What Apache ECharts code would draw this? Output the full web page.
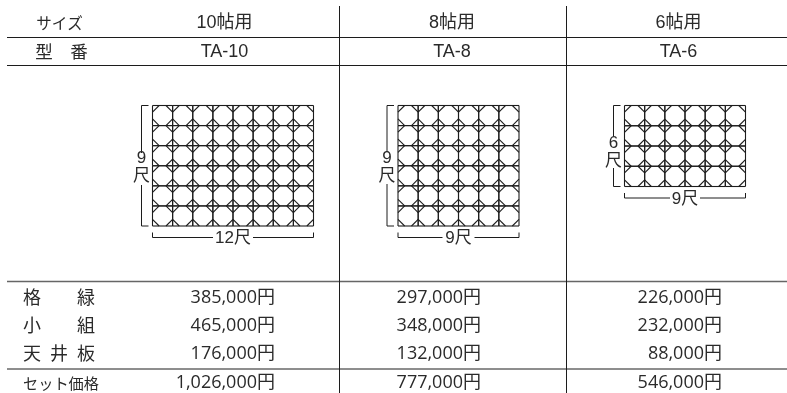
<!DOCTYPE html>
<html><head><meta charset="utf-8">
<style>html,body{margin:0;padding:0;background:#fff}#c{width:787px;height:393px}</style>
<script src="https://cdn.jsdelivr.net/npm/echarts@6/dist/echarts.min.js"></script>
</head><body><div id="c"></div>
<script>
const sizes = ['10帖用','8帖用','6帖用'];
const models = ['TA-10','TA-8','TA-6'];
const rowLabels = ['格　　緑','小　　組','天\u2002井\u2002板'];
const rowHeads = ['サイズ','型　番'];
const totalLabel = 'セット価格';
const kakubuchi = ['385,000円','297,000円','226,000円'];
const kogumi = ['465,000円','348,000円','232,000円'];
const tenjoita = ['176,000円','132,000円','88,000円'];
const setPrice = ['1,026,000円','777,000円','546,000円'];
const spanW = [12,9,9];   // shaku
const spanH = [9,9,6];
const cols = [8,6,6];
const rows = [6,6,4];
const widthLabels = ['12尺','9尺','9尺'];
const heightDigits = ['9','9','6'];

const JP = '"Noto Sans CJK JP","Noto Sans"';
const LAT = '"Liberation Sans","Noto Sans CJK JP"';
const INK = '#1c1c1c';
const TXT = '#2a2a2a';
const panels = [
  {l:152.5,t:105.5,w:161,h:120.5,gapW:20,labelY:166.5,gapT:153,gapB:185},
  {l:398,t:105.5,w:121,h:120.5,gapW:16,labelY:166.5,gapT:152,gapB:184},
  {l:624.5,t:105.5,w:121,h:81,gapW:15,labelY:151,gapT:136.5,gapB:168}
];
const chart = echarts.init(document.getElementById('c'));

function latticeItem(panel){
  return function(params, api){
    const nc = cols[panel], nr = rows[panel];
    const cw = spanW[panel]/nc, ch = spanH[panel]/nr;
    const i = api.value(0), j = api.value(1);
    const P = (x,y)=>api.coord([x,y]);
    const ln = (a,b)=>({type:'line',shape:{x1:a[0],y1:a[1],x2:b[0],y2:b[1]},style:{stroke:INK,lineWidth:1.1}});
    const x0=i*cw,y0=j*ch,x1=x0+cw,y1=y0+ch;
    const f=0.33;
    return {type:'group',children:[
      ln(P(x0,y0),P(x1,y0)),ln(P(x0,y1),P(x1,y1)),ln(P(x0,y0),P(x0,y1)),ln(P(x1,y0),P(x1,y1)),
      ln(P(x0+cw*f,y0),P(x0,y0+ch*f)),ln(P(x1-cw*f,y0),P(x1,y0+ch*f)),
      ln(P(x0+cw*f,y1),P(x0,y1-ch*f)),ln(P(x1-cw*f,y1),P(x1,y1-ch*f))
    ]};
  };
}
const grids=[],xAxes=[],yAxes=[],series=[];
panels.forEach((p,k)=>{
  grids.push({left:p.l,top:p.t,width:p.w,height:p.h,containLabel:false});
  xAxes.push({gridIndex:k,type:'value',min:0,max:spanW[k],show:false});
  yAxes.push({gridIndex:k,type:'value',min:0,max:spanH[k],inverse:true,show:false});
  const cells=[];
  for(let i=0;i<cols[k];i++)for(let j=0;j<rows[k];j++)cells.push([i,j]);
  series.push({type:'custom',xAxisIndex:k,yAxisIndex:k,coordinateSystem:'cartesian2d',silent:true,animation:false,clip:false,
    encode:{x:0,y:1},data:cells,renderItem:latticeItem(k)});
});

const g=[];
const line=(x1,y1,x2,y2,w,c)=>g.push({type:'line',silent:true,shape:{x1,y1,x2,y2},style:{stroke:c||INK,lineWidth:w||1}});
const text=(s,x,y,align,size,font)=>g.push({type:'text',silent:true,x,y,style:{text:s,x:0,y:0,align:align||'center',verticalAlign:'middle',fontSize:size||16,fontFamily:font||JP,fill:TXT}});

line(7,37.5,787,37.5,1);
line(7,65.5,787,65.5,1);
line(7,281.5,787,281.5,1.5,'#666');
line(7,369,787,369,1);
line(339.5,6,339.5,393,1);
line(566.5,6,566.5,393,1);

const cx=[224.5,452,678.5];
const right=[275,481,722];
const rowY=[297.5,325.5,353.5];
text(rowHeads[0],59.5,23,'center',15.5,JP);
text(rowHeads[1],61.5,51,'center',17.5,JP);
sizes.forEach((s,i)=>text(s,cx[i],23,'center',18,LAT));
models.forEach((s,i)=>text(s,cx[i],52,'center',18,LAT));
rowLabels.forEach((s,i)=>text(s,23,rowY[i],'left',18,JP));
text(totalLabel,23,383,'left',15.2,JP);
[kakubuchi,kogumi,tenjoita,setPrice].forEach((arr,r)=>arr.forEach((s,i)=>text(s,right[i],r<3?rowY[r]:383,'right',18,'"Open Sans","Noto Sans CJK JP"')));

// dimension brackets
panels.forEach((p,k)=>{
  const l=p.l,t=p.t,b=p.t+p.h,r=p.l+p.w;
  const bx=l-11, by=b+11.5, mx=(l+r)/2;
  line(bx,t,bx,p.gapT,1);line(bx,p.gapB,bx,b,1);line(bx,t,l-4,t,1);line(bx,b,l-4,b,1);
  line(l,by,mx-p.gapW,by,1);line(mx+p.gapW,by,r,by,1);line(l,by-5,l,by,1);line(r,by-5,r,by,1);
  text(heightDigits[k],bx,p.labelY-8,'center',17,LAT);
  text('尺',bx,p.labelY+8.5,'center',17,JP);
  text(widthLabels[k],mx,by+1,'center',17,LAT);
});

chart.setOption({animation:false,backgroundColor:'#fff',grid:grids,xAxis:xAxes,yAxis:yAxes,series,graphic:g});
</script></body></html>
